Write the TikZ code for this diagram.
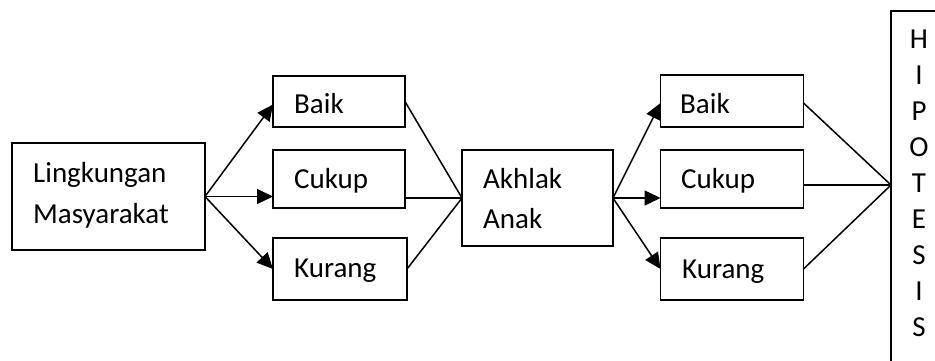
\documentclass[tikz,border=0pt]{standalone}
\usepackage{fontspec}
\setmainfont{Carlito}
\usetikzlibrary{arrows.meta,calc}
\begin{document}
\begin{tikzpicture}[x=1pt,y=-1pt,
  box/.style={draw,line width=1.6pt,inner sep=0pt,outer sep=0pt},
  txt/.style={anchor=base west,inner sep=0pt,font=\fontsize{29}{34}\selectfont},
  let/.style={anchor=base,inner sep=0pt,font=\fontsize{29}{34}\selectfont},
  conn/.style={line width=1.5pt},
  arr/.style={line width=1.5pt,-{Triangle[length=16pt,width=15pt]}}]
\useasboundingbox (0,0) rectangle (935,360);
\clip (0,0) rectangle (935,360);
% boxes
\node[box,minimum width=132pt,minimum height=51pt] (b1) at (339,101.5) {};
\node[box,minimum width=193pt,minimum height=107pt] (lm) at (108.5,196.5) {};
\node[box,minimum width=132pt,minimum height=58pt] (c1) at (339,179) {};
\node[box,minimum width=134pt,minimum height=62pt] (k1) at (340,269) {};
\node[box,minimum width=151pt,minimum height=96pt] (aa) at (537.5,198) {};
\node[box,minimum width=143pt,minimum height=52pt] (b2) at (732,101) {};
\node[box,minimum width=143pt,minimum height=58pt] (c2) at (732,179) {};
\node[box,minimum width=143pt,minimum height=62pt] (k2) at (732,269) {};
\node[box,minimum width=49pt,minimum height=361pt] (hp) at (915.5,191.5) {};
% texts
\node[txt] (t1) at (33,182) {Lingkungan};
\node[txt] (t2) at (33,223) {Masyarakat};
\node[txt] (t3) at (294,113) {Baik};
\node[txt] (t4) at (294,188) {Cukup};
\node[txt] (t5) at (294,277) {Kurang};
\node[txt] (t6) at (483,188) {Akhlak};
\node[txt] (t7) at (483,228) {Anak};
\node[txt] (t8) at (680,113) {Baik};
\node[txt] (t9) at (681,188) {Cukup};
\node[txt] (t10) at (682,278) {Kurang};
\foreach \l [count=\i from 0] in {H,I,P,O,T,E,S,I,S}
  \node[let] (h\i) at (919,{48.5+36*\i}) {\l};
% connectors left fan
\draw[arr] (lm.east) -- ([yshift=-3pt]b1.west);
\draw[arr] (lm.east) -- (lm.east -| c1.west);
\draw[arr] (lm.east) -- (k1.west);
% into Akhlak
\draw[conn] (b1.east) -- (aa.west);
\draw[conn] (aa.west -| c1.east) -- (aa.west);
\draw[conn] (k1.east) -- (aa.west);
% right fan
\draw[arr] (aa.east) -- ([yshift=-2pt]b2.west);
\draw[arr] (aa.east) -- (aa.east -| c2.west);
\draw[arr] (aa.east) -- (k2.west);
% into Hipotesis
\coordinate (j) at (891,185);
\draw[conn] ([yshift=-2pt]b2.east) -- (j);
\draw[conn] (j -| c2.east) -- (j);
\draw[conn] (k2.east) -- (j);
\end{tikzpicture}
\end{document}
